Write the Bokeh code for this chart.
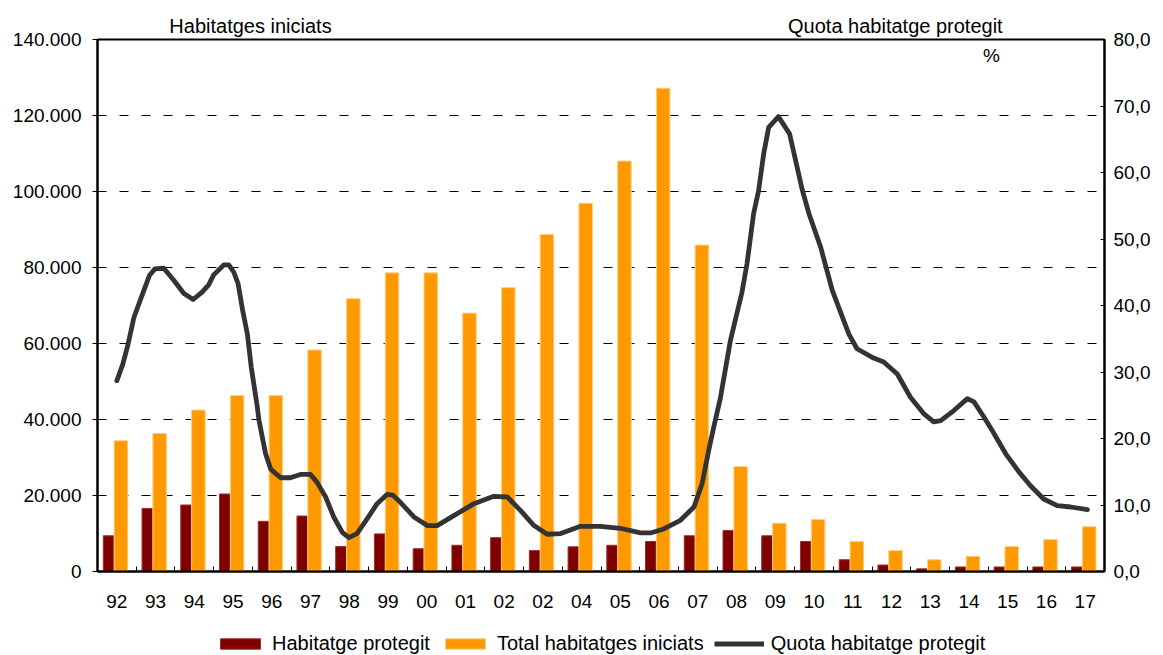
from bokeh.plotting import figure
from bokeh.layouts import column
from bokeh.models import (Range1d, LinearAxis, FixedTicker, Legend, LegendItem,
                          Label, ColumnDataSource)
from bokeh.embed import file_html
from bokeh.resources import INLINE

# ---------------- data ----------------
years = ["92", "93", "94", "95", "96", "97", "98", "99", "00", "01", "02", "02",
         "04", "05", "06", "07", "08", "09", "10", "11", "12", "13", "14", "15",
         "16", "17"]
protegit = [9400, 16600, 17500, 20400, 13200, 14600, 6600, 9900, 6000, 6900,
            8900, 5500, 6500, 6900, 7900, 9400, 10800, 9400, 7900, 3100, 1700,
            700, 1200, 1200, 1200, 1200]
total = [34400, 36300, 42500, 46300, 46300, 58300, 71800, 78600, 78600, 68000,
         74700, 88700, 96900, 108000, 127200, 85900, 27600, 12700, 13700, 7900,
         5500, 3100, 4000, 6600, 8400, 11800]

# quota line: time in years since 1992 (position on the category axis), value in %
quota_t = [0.00, 0.15, 0.29, 0.44, 0.70, 0.84, 0.98, 1.21, 1.47, 1.73, 1.97,
           2.20, 2.37, 2.50, 2.76, 2.89, 3.02, 3.13, 3.25, 3.37, 3.47, 3.62,
           3.67, 3.84, 3.97, 4.23, 4.48, 4.74, 5.00, 5.17, 5.39, 5.60, 5.82,
           5.99, 6.20, 6.46, 6.72, 6.98, 7.12, 7.32, 7.67, 8.02, 8.27, 8.70,
           9.22, 9.73, 10.08, 10.42, 10.77, 11.11, 11.46, 11.97, 12.49, 13.00,
           13.52, 13.78, 14.12, 14.55, 14.90, 15.11, 15.28, 15.41, 15.58,
           15.84, 16.14, 16.27, 16.44, 16.57, 16.70, 16.83, 17.08, 17.37,
           17.70, 17.87, 18.17, 18.47, 18.77, 18.90, 19.11, 19.54, 19.80,
           20.15, 20.49, 20.84, 21.09, 21.27, 21.61, 21.96, 22.13, 22.39,
           22.60, 22.95, 23.30, 23.59, 23.93, 24.28, 24.63, 25.06]
quota = [28.7, 31.1, 34.2, 38.2, 42.3, 44.5, 45.5, 45.6, 43.8, 41.8, 40.9,
         42.0, 43.1, 44.6, 46.1, 46.1, 45.0, 43.3, 39.2, 35.7, 30.7, 25.0,
         22.7, 17.7, 15.4, 14.1, 14.1, 14.6, 14.6, 13.4, 11.2, 8.2, 5.9,
         5.1, 5.7, 7.9, 10.2, 11.6, 11.5, 10.4, 8.2, 6.9, 6.9, 8.4,
         10.2, 11.3, 11.2, 9.2, 6.9, 5.6, 5.7, 6.8, 6.8, 6.5,
         5.8, 5.8, 6.4, 7.7, 9.7, 13.2, 18.2, 21.7, 26.0,
         34.7, 42.0, 46.3, 53.8, 57.3, 62.8, 66.8, 68.4, 65.8,
         57.3, 53.8, 48.8, 42.3, 37.7, 35.7, 33.5, 32.1, 31.5,
         29.7, 26.2, 23.7, 22.5, 22.7, 24.2, 26.0, 25.5, 23.2,
         21.2, 17.7, 14.9, 12.9, 10.9, 9.9, 9.7, 9.3]

left_ticks = [0, 20000, 40000, 60000, 80000, 100000, 120000, 140000]
left_labels = ["0", "20.000", "40.000", "60.000", "80.000", "100.000",
               "120.000", "140.000"]
right_ticks = [0, 10, 20, 30, 40, 50, 60, 70, 80]
right_labels = ["0,0", "10,0", "20,0", "30,0", "40,0", "50,0", "60,0",
                "70,0", "80,0"]

titles = ["Habitatges iniciats", "Quota habitatge protegit"]
title_pos = [3.45, 20.1]
series_names = ["Habitatge protegit", "Total habitatges iniciats",
                "Quota habitatge protegit"]

FONT = "Liberation Sans"
FS = "19px"
FS2 = "20px"
DARKRED = "#800000"
ORANGE = "#FF9900"
LINEC = "#333333"
LW = 4.8
W = 1163
ML, MR = 97, 59

idx = list(range(len(years)))

src = ColumnDataSource(dict(
    x_p=[i - 0.21 for i in idx],
    x_t=[i + 0.105 for i in idx],
    protegit=protegit, total=total))

# ---------------- main chart ----------------
p = figure(width=W, height=619, output_backend="svg", toolbar_location=None,
           x_range=Range1d(-0.5, 25.5), y_range=Range1d(0, 140000),
           min_border_left=ML, min_border_right=MR, min_border_top=39,
           min_border_bottom=48)
p.extra_y_ranges = {"pct": Range1d(0, 80)}

p.outline_line_color = "black"
p.outline_line_width = 2

p.xgrid.visible = False
p.ygrid.ticker = FixedTicker(ticks=left_ticks)
p.ygrid.grid_line_color = "black"
p.ygrid.grid_line_width = 1
p.ygrid.grid_line_dash = "9 13"

r_p = p.vbar(x="x_p", top="protegit", width=0.28, bottom=0, source=src,
             fill_color=DARKRED, line_color="#9A3030", line_width=1)
r_t = p.vbar(x="x_t", top="total", width=0.35, bottom=0, source=src,
             fill_color=ORANGE, line_color="#FFCF85", line_width=1)
r_l = p.line(quota_t, quota, y_range_name="pct", line_color=LINEC,
             line_width=LW, line_join="round", line_cap="round")

xa = p.xaxis[0]
xa.ticker = FixedTicker(ticks=idx, minor_ticks=[i - 0.5 for i in range(len(years) + 1)])
xa.major_label_overrides = {i: lab for i, lab in enumerate(years)}
xa.major_tick_line_color = None
xa.major_tick_in = 0
xa.major_tick_out = 0
xa.minor_tick_in = 5
xa.minor_tick_out = 0
xa.minor_tick_line_color = "black"
xa.axis_line_width = 2
xa.axis_line_color = "black"
xa.major_label_standoff = 23
xa.major_label_text_font = FONT
xa.major_label_text_font_size = FS
xa.major_label_text_color = "black"

# axis titles, drawn as the labels of an axis above the frame
ta = LinearAxis()
ta.ticker = FixedTicker(ticks=title_pos)
ta.major_label_overrides = {t: lab for t, lab in zip(title_pos, titles)}
ta.axis_line_color = None
ta.major_tick_line_color = None
ta.minor_tick_line_color = None
ta.major_tick_in = 0
ta.major_tick_out = 0
ta.major_label_standoff = 3
ta.major_label_text_font = FONT
ta.major_label_text_font_size = FS2
ta.major_label_text_color = "black"
p.add_layout(ta, "above")

ya = p.yaxis[0]
ya.ticker = FixedTicker(ticks=left_ticks)
ya.major_label_overrides = {t: lab for t, lab in zip(left_ticks, left_labels)}
ya.major_tick_in = 0
ya.major_tick_out = 5
ya.minor_tick_line_color = None
ya.axis_line_width = 2
ya.axis_line_color = "black"
ya.major_label_standoff = 11
ya.major_label_text_font = FONT
ya.major_label_text_font_size = FS
ya.major_label_text_color = "black"

ra = LinearAxis(y_range_name="pct")
ra.ticker = FixedTicker(ticks=right_ticks)
ra.major_label_overrides = {t: lab for t, lab in zip(right_ticks, right_labels)}
ra.major_tick_in = 4
ra.major_tick_out = 0
ra.minor_tick_line_color = None
ra.axis_line_width = 2
ra.axis_line_color = "black"
ra.major_label_standoff = 9
ra.major_label_text_font = FONT
ra.major_label_text_font_size = FS
ra.major_label_text_color = "black"
p.add_layout(ra, "right")

p.add_layout(Label(x=22.58, y=140000, y_offset=-16, text="%",
                   text_align="center", text_baseline="middle",
                   text_font=FONT, text_font_size=FS, text_color="black"))

# ---------------- bottom strip with the legend ----------------
# the same series as hidden renderers: only their legend swatches show
bot = figure(width=W, height=36, output_backend="svg", toolbar_location=None,
             x_range=Range1d(-0.5, 25.5), y_range=Range1d(0, 140000),
             x_axis_location=None, y_axis_location=None,
             min_border_left=0, min_border_right=0, min_border_top=0,
             min_border_bottom=0)
bot.outline_line_color = None
bot.grid.visible = False
lp = bot.vbar(x="x_p", top="protegit", width=0.28, source=src,
              fill_color=DARKRED, line_color="#9A3030", visible=False)
lt = bot.vbar(x="x_t", top="total", width=0.35, source=src,
              fill_color=ORANGE, line_color="#FFCF85", visible=False)
ll = bot.line(quota_t, quota, line_color=LINEC, line_width=LW, visible=False)
legend = Legend(items=[LegendItem(label=n, renderers=[r])
                       for n, r in zip(series_names, [lp, lt, ll])],
                orientation="horizontal", location=(118, 0),
                glyph_width=50, glyph_height=13, label_standoff=7, spacing=10,
                padding=1, margin=0, border_line_color=None,
                background_fill_alpha=0, label_text_font=FONT,
                label_text_font_size=FS2, label_text_color="black",
                inactive_fill_alpha=0)
bot.add_layout(legend, "center")

layout = column(p, bot, spacing=0)
open("out.html", "w").write(file_html(layout, INLINE))
